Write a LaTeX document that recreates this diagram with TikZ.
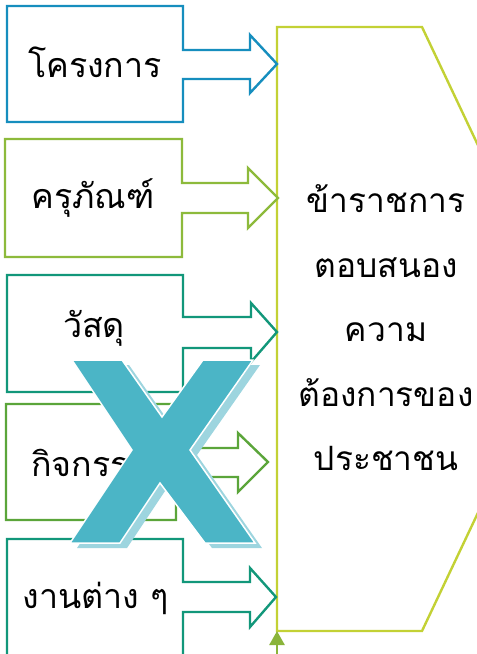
\documentclass[tikz,border=0pt]{standalone}
\usepackage{fontspec}
\newfontfamily\thaifont[Script=Thai]{Loma}
\usetikzlibrary{arrows.meta}
\definecolor{projblue}{HTML}{168EBE}
\definecolor{equipgreen}{HTML}{8DBA3B}
\definecolor{mattteal}{HTML}{12977A}
\definecolor{actgreen}{HTML}{5BA53A}
\definecolor{govyellow}{HTML}{C3D135}
\definecolor{feedgreen}{HTML}{8AB43A}
\definecolor{crossteal}{HTML}{4BB5C6}
\definecolor{crossshade}{HTML}{9DD5DF}
\tikzset{
  callout/.style={line width=2.4pt, line join=miter, fill=white},
  boxtext/.style={font=\thaifont\fontsize{34}{40}\selectfont, inner sep=0pt},
}
\begin{document}
\begin{tikzpicture}[x=1pt,y=-1pt]
  \useasboundingbox (0,0) rectangle (477,654);
  \clip (0,0) rectangle (477,654);
  % main block
  \draw[callout,draw=govyellow]
    (277,27) coordinate (govtop) -- (422,27) -- (565,329)
    -- (422,631) -- (277,631) coordinate (govbase) -- cycle;
  \node[font=\thaifont\fontsize{33.5}{64.5}\selectfont, align=center, inner sep=0pt]
    (gov) at (386,328) {ข้าราชการ\\ตอบสนอง\\ความ\\ต้องการของ\\ประชาชน};
  % feedback arrow
  \coordinate (feed) at (277,662);
  \draw[feedgreen, line width=2.6pt, -{Triangle[length=14pt,width=15pt]}]
    (feed) -- (govbase);
  % input callouts
  \draw[callout,draw=projblue]
    (7,6) -- (183,6) -- (183,50) -- (250,50) -- (250,35) -- (277,64)
    -- (250,93) -- (250,79) -- (183,79) -- (183,122) -- (7,122) -- cycle;
  \node[boxtext] (proj) at (95,62) {โครงการ};
  \draw[callout,draw=equipgreen]
    (5,139) -- (182,139) -- (182,183) -- (248,183) -- (248,168) -- (278,198)
    -- (248,228) -- (248,213) -- (182,213) -- (182,257) -- (5,257) -- cycle;
  \node[boxtext] (equip) at (93,198) {ครุภัณฑ์};
  \draw[callout,draw=mattteal]
    (7,275) -- (183,275) -- (183,317) -- (251,317) -- (251,303) -- (277,332)
    -- (251,362) -- (251,348) -- (183,348) -- (183,392) -- (7,392) -- cycle;
  \node[boxtext] (matt) at (94,328) {วัสดุ};
  \draw[callout,draw=actgreen]
    (6,404) -- (176,404) -- (176,448) -- (238,448) -- (238,433) -- (268,462)
    -- (238,492) -- (238,477) -- (176,477) -- (176,520) -- (6,520) -- cycle;
  \node[boxtext, anchor=west] (act) at (31,463) {กิจกรรม};
  \draw[callout,draw=mattteal]
    (7,539) -- (183,539) -- (183,582) -- (250,582) -- (250,568) -- (276,597)
    -- (250,627) -- (250,612) -- (183,612) -- (183,680) -- (7,680) -- cycle;
  \node[boxtext] (work) at (96,598) {งานต่าง ๆ};
  % cross
  \fill[crossshade,shift={(7,5)}]
    (72,360) -- (122,360) -- (162,417) -- (203,360) -- (253,360) -- (190,450)
    -- (255,543) -- (205,543) -- (160,483) -- (120,543) -- (70,543) -- (132,450) -- cycle;
  \draw[white, fill=crossteal, line width=1.5pt]
    (72,360) -- (122,360) -- (162,417) -- (203,360) -- (253,360) -- (190,450)
    -- (255,543) -- (205,543) -- (160,483) -- (120,543) -- (70,543) -- (132,450) -- cycle;
\end{tikzpicture}
\end{document}
